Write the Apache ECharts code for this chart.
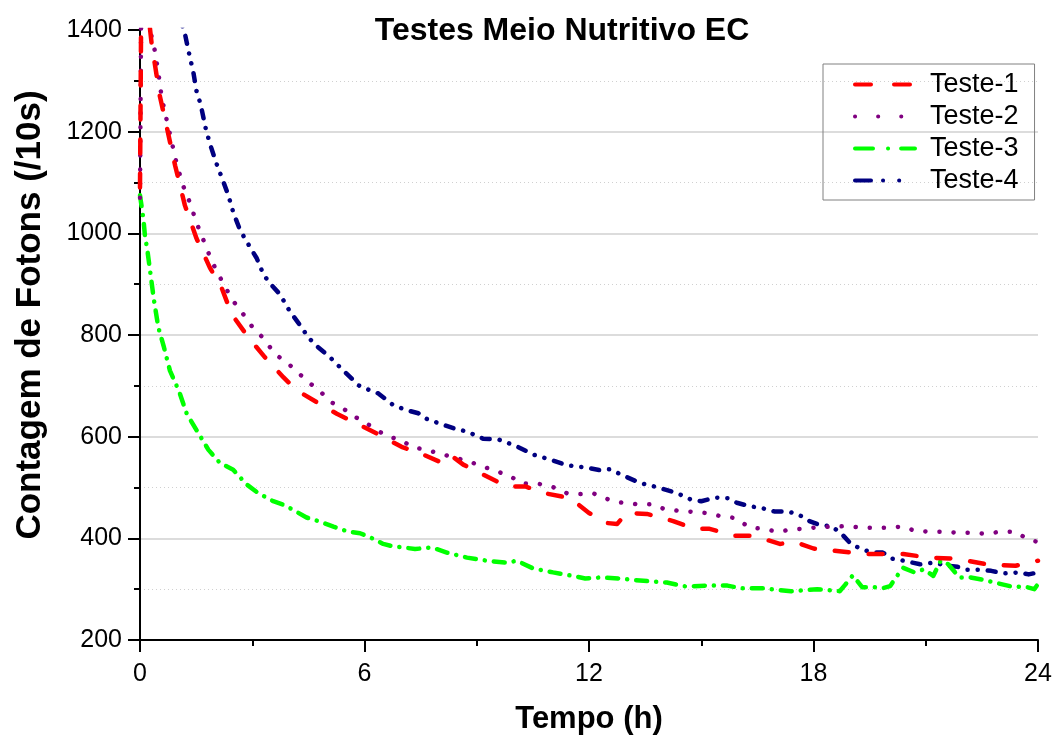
<!DOCTYPE html>
<html>
<head>
<meta charset="utf-8">
<script src="https://cdn.jsdelivr.net/npm/echarts@6/dist/echarts.min.js"></script>
<style>
html,body{margin:0;padding:0;background:#fff;}
#chart{width:1055px;height:740px;}
</style>
</head>
<body>
<div id="chart"></div>
<script>
// Tempo (h) / contagem de fotons (/10s)
var seriesNames = ['Teste-1', 'Teste-2', 'Teste-3', 'Teste-4'];
var xTicks = [0, 6, 12, 18, 24];
var yTicks = [200, 400, 600, 800, 1000, 1200, 1400];

var t1 = [0,0.03,0.15,0.31,0.53,0.71,0.94,1.2,1.51,1.87,2.18,2.45,2.9,3.34,3.83,4.19,4.72,5.26,5.79,6.41,6.99,7.5,8.0,8.28,8.64,9.1,9.8,10.3,10.8,11.5,12.0,12.5,12.75,13.0,13.55,14.25,14.8,15.2,15.9,16.4,17.1,17.5,18.0,18.75,19.4,20.4,21.1,21.8,22.7,23.4,24];
var v1 = [1090,1420,1480,1374,1270,1211,1133,1055,990,932,893,841,795,756,717,691,668,645,626,603,580,567,551,565,545,528,502,502,489,479,450,430,428,450,448,434,419,419,405,405,389,393,380,374,369,369,362,360,348,346,356];

var t2 = [0,0.03,0.15,0.27,0.4,0.49,0.58,0.71,0.85,0.98,1.14,1.34,1.51,1.71,1.92,2.24,2.49,2.76,3.03,3.31,3.6,3.92,4.17,4.47,4.79,5.1,5.4,5.75,6.1,6.59,6.95,7.3,7.6,8.3,8.8,9.17,9.5,9.9,10.2,10.6,11.0,11.4,11.75,12.1,12.5,12.8,13.3,13.7,14.0,14.4,14.8,15.1,15.5,15.9,16.3,16.6,17.05,17.4,17.7,18.15,18.9,19.3,19.9,20.4,20.7,21.1,21.5,21.85,22.25,22.6,23.0,23.4,23.75,24];
var v2 = [1070,1420,1450,1400,1358,1316,1267,1224,1179,1137,1096,1059,1021,984,945,899,867,841,813,793,763,746,730,709,691,668,657,639,624,601,594,579,575,561,551,541,533,522,508,508,502,489,487,489,477,471,467,467,458,454,452,450,444,440,421,419,413,417,419,422,424,421,421,423,415,413,413,411,411,409,413,413,397,393];

var t3 = [0,0.09,0.13,0.2,0.27,0.37,0.49,0.64,0.8,1.05,1.25,1.51,1.83,2.14,2.49,2.85,3.16,3.56,3.87,4.14,4.45,4.76,5.17,5.57,5.88,6.15,6.5,6.77,7.04,7.35,7.8,8.2,8.74,9.27,9.8,10.07,10.5,11.04,11.5,11.9,12.3,12.8,13.36,14.08,14.6,15.15,15.7,16.05,16.6,17.4,18.1,18.7,18.85,19.05,19.3,19.6,19.85,20.05,20.2,20.4,20.7,20.95,21.2,21.4,21.6,21.9,22.2,22.5,22.85,23.3,23.65,23.9,24];
var v3 = [1075,1029,997,965,926,870,815,776,730,688,645,613,574,548,535,506,489,473,465,454,441,434,423,413,410,402,389,384,382,379,382,372,362,356,352,356,341,333,327,321,323,321,317,313,305,307,307,302,302,296,300,296,309,327,304,304,302,306,323,342,333,339,326,356,349,323,323,319,313,305,305,300,310];

var t4 = [0.9,1.2,1.29,1.43,1.51,1.62,1.76,1.87,2.03,2.23,2.36,2.49,2.67,2.85,3.12,3.3,3.47,3.74,4.0,4.32,4.5,4.76,5.08,5.27,5.52,5.84,6.15,6.37,6.77,7.13,7.44,7.66,8.0,8.4,8.74,9.17,9.6,10.07,10.5,10.96,11.4,11.85,12.3,12.56,12.9,13.36,13.8,14.35,14.7,15.0,15.37,15.7,15.95,16.3,16.6,16.95,17.3,17.6,17.85,18.1,18.5,18.75,19.0,19.3,19.6,19.85,20.1,20.4,20.85,21.2,21.6,21.85,22.1,22.4,22.75,23.1,23.5,23.75,24];
var v4 = [1460,1393,1361,1315,1280,1254,1205,1176,1140,1101,1075,1042,1007,984,951,919,902,880,847,815,795,776,756,742,724,701,691,685,662,652,646,635,626,616,610,596,594,581,565,555,544,540,534,536,524,509,501,489,477,473,480,479,470,463,460,453,453,447,435,428,423,409,389,378,372,372,360,356,349,352,346,344,338,338,336,331,333,329,333];

var colors = ['#FF0000', '#800080', '#00FF00', '#000080'];
var plotDash = [[14, 20], [0.1, 14], [11, 9, 0.1, 9], [8, 10, 0.1, 10, 0.1, 10]];
var legendDash = [[16, 23], [0.1, 23], [18, 15, 0.1, 13], [16, 12, 0.1, 16, 0.1, 16]];

function pairs(t, v) { return t.map(function (x, i) { return [x, v[i]]; }); }
var allT = [t1, t2, t3, t4];
var allV = [v1, v2, v3, v4];

var FONT = 'Liberation Sans, Arial, sans-serif';

var chart = echarts.init(document.getElementById('chart'), null, {renderer: 'canvas'});
var option = {
  backgroundColor: '#ffffff',
  animation: false,
  title: {
    text: 'Testes Meio Nutritivo EC',
    left: 557, top: 10, textAlign: 'center',
    textStyle: {fontFamily: FONT, fontWeight: 'bold', fontSize: 32, color: '#000'}
  },
  grid: {left: 140, right: 17, top: 30, bottom: 95, containLabel: false},
  legend: {
    orient: 'vertical', left: 823, top: 64,
    padding: [7, 16, 6, 30],
    itemWidth: 60, itemHeight: 14, itemGap: 5,
    borderColor: '#808080', borderWidth: 1,
    itemStyle: {opacity: 0},
    textStyle: {fontFamily: FONT, fontSize: 27, color: '#000', padding: [0, 0, 0, 10]},
    data: seriesNames.map(function (n, i) {
      return {name: n, lineStyle: {type: legendDash[i], width: 4, cap: 'round', color: colors[i]}, itemStyle: {opacity: 0}};
    })
  },
  xAxis: {
    type: 'value', min: 0, max: 24, interval: 6,
    name: 'Tempo (h)', nameLocation: 'middle', nameGap: 64,
    nameTextStyle: {fontFamily: FONT, fontWeight: 'bold', fontSize: 31, color: '#000'},
    axisLine: {show: true, onZero: false, lineStyle: {color: '#000', width: 2}},
    axisTick: {show: true, inside: false, length: 12, lineStyle: {color: '#000', width: 2}},
    minorTick: {show: true, splitNumber: 2, length: 6, lineStyle: {color: '#000', width: 2}},
    axisLabel: {margin: 22, fontFamily: FONT, fontSize: 25, color: '#000',
      formatter: function (v) { return xTicks.indexOf(v) >= 0 ? String(v) : ''; }},
    splitLine: {show: false}
  },
  yAxis: {
    type: 'value', min: 200, max: 1400, interval: 200,
    name: 'Contagem de Fotons (/10s)', nameLocation: 'middle', nameGap: 92,
    nameTextStyle: {fontFamily: FONT, fontWeight: 'bold', fontSize: 35, color: '#000', padding: [0, 0, 0, 40]},
    axisLine: {show: true, onZero: false, lineStyle: {color: '#000', width: 2}},
    axisTick: {show: true, inside: false, length: 12, lineStyle: {color: '#000', width: 2}},
    minorTick: {show: true, splitNumber: 2, length: 6, lineStyle: {color: '#000', width: 2}},
    axisLabel: {margin: 18, fontFamily: FONT, fontSize: 25, color: '#000',
      formatter: function (v) { return yTicks.indexOf(v) >= 0 ? String(v) : ''; }},
    splitLine: {show: true, showMinLine: false, showMaxLine: false, lineStyle: {color: '#dcdcdc', width: 2}},
    minorSplitLine: {show: true, lineStyle: {color: '#d0d0d0', width: 1, type: [1, 3]}}
  },
  series: seriesNames.map(function (n, i) {
    return {
      name: n, type: 'line', symbol: 'none', showSymbol: false, clip: true,
      smooth: false,
      lineStyle: {color: colors[i], width: 4.5, type: plotDash[i], cap: 'round', join: 'round'},
      itemStyle: {color: colors[i]},
      data: pairs(allT[i], allV[i]),
      z: 10 - i
    };
  })
};
chart.setOption(option);
</script>
</body>
</html>
